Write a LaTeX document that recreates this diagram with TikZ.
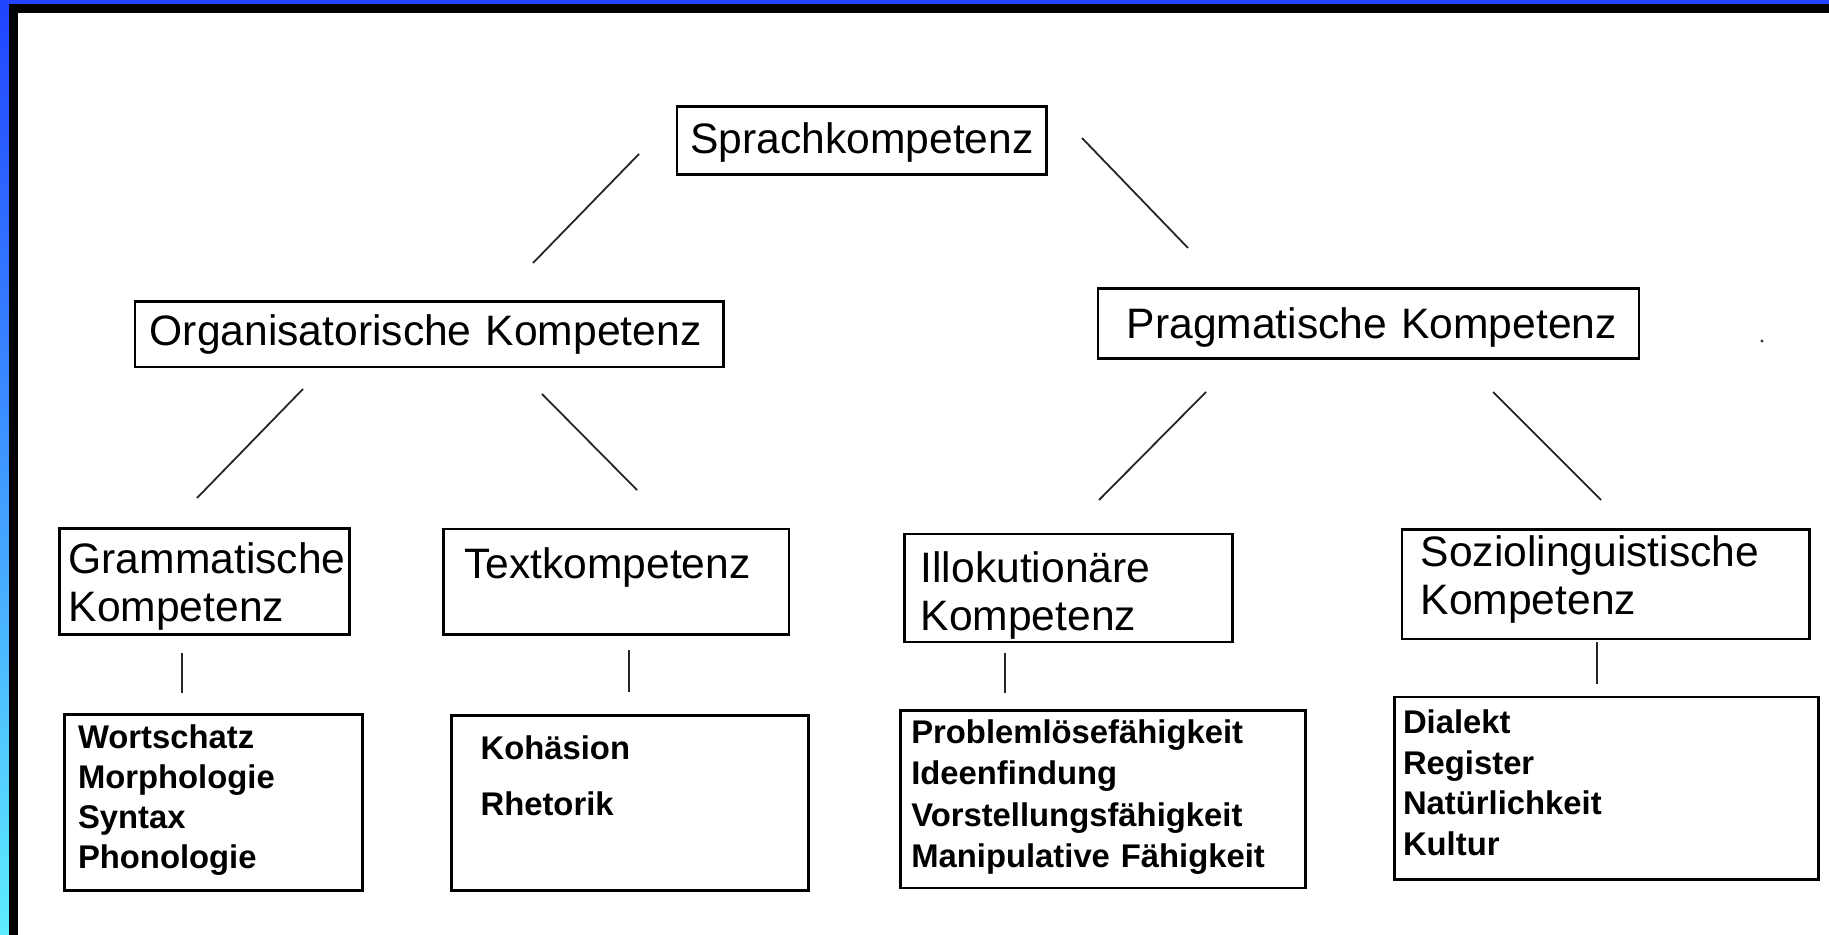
\documentclass[tikz,border=0pt]{standalone}
\usepackage{fontspec}
\setmainfont{Liberation Sans}
\hyphenpenalty=10000
\exhyphenpenalty=10000
\definecolor{frametop}{RGB}{32,68,255}
\definecolor{framebot}{RGB}{94,236,255}
\tikzset{
  kbox/.style={draw, line width=1.3pt, anchor=north west, inner ysep=0pt, align=left},
  upper/.style={kbox, font=\fontsize{21.3}{24.2}\selectfont},
  lower/.style={kbox, font=\fontsize{16.4}{20.3}\selectfont\bfseries},
  link/.style={draw=black!85, line width=0.9pt},
}
\begin{document}
\begin{tikzpicture}[x=0.5pt,y=-0.5pt]
	\useasboundingbox (0,0) rectangle (1829,935);
	% frame
	\fill[white] (0,0) rectangle (1829,935);
	\shade[top color=frametop, bottom color=framebot] (0,0) rectangle (9,935);
	\fill[frametop] (0,0) rectangle (1829,4.3);
	\fill[black] (9,4.3) rectangle (18,935);
	\fill[black] (9,4.3) rectangle (1829,13);

	% boxes
	\node[upper, inner xsep=6.75pt, text width=171.4pt, text height=23.85pt, text depth=10.3pt] (sprach) at (675.5,105) {Sprachkompetenz};
	\node[upper, inner xsep=7.35pt, text width=279.45pt, text height=22pt, text depth=10.85pt] (orga) at (133.7,300) {Organisatorische~Kompetenz};
	\node[upper, inner xsep=14.35pt, text width=241.75pt, text height=24.7pt, text depth=10.3pt] (pragma) at (1096.7,287.3) {Pragmatische~Kompetenz};

	\node[upper, inner xsep=4.65pt, text width=135.85pt, text height=22.2pt, text depth=30.8pt] (gramm) at (58,527.3) {Grammatische\\Kompetenz};
	\node[upper, inner xsep=10.2pt, text width=152.3pt, text height=24.5pt, text depth=28.3pt] (textk) at (442.3,527.7) {Textkompetenz};
	\node[upper, inner xsep=8pt, text width=147.85pt, text height=24.15pt, text depth=29.85pt] (illok) at (903.3,532.7) {Illokutionäre\\Kompetenz};
	\node[upper, inner xsep=9.3pt, text width=185.2pt, text height=18.35pt, text depth=36.35pt] (sozio) at (1400.7,528.3) {Soziolinguistische\\Kompetenz};

	\node[lower, inner xsep=6.7pt, text width=135.45pt, text height=16.7pt, text depth=71.15pt, font=\fontsize{16.4}{20}\selectfont\bfseries] (gramlist) at (63.3,713.3) {Wortschatz\\Morphologie\\Syntax\\Phonologie};
	\node[lower, inner xsep=14.65pt, text width=149.35pt, text height=22.15pt, text depth=65.35pt, font=\fontsize{16.4}{28}\selectfont\bfseries] (textlist) at (450,714) {Kohäsion\\Rhetorik};
	\node[lower, inner xsep=5.5pt, text width=191.65pt, text height=16.5pt, text depth=72.2pt, font=\fontsize{16.4}{20.6}\selectfont\bfseries] (illoklist) at (899,709.3) {Problemlösefähigkeit\\Ideenfindung\\Vorstellungsfähigkeit\\Manipulative~Fähigkeit};
	\node[lower, inner xsep=4.2pt, text width=203.6pt, text height=18.3pt, text depth=73pt] (soziolist) at (1393.3,695.7) {Dialekt\\Register\\Natürlichkeit\\Kultur};

	% connector ends
	\coordinate (s1) at (639,154);   \coordinate (o1) at (533,263);
	\coordinate (s2) at (1082,138);  \coordinate (p1) at (1188,248);
	\coordinate (o2) at (303,389);   \coordinate (g1) at (197,498);
	\coordinate (o3) at (542,394);   \coordinate (t1) at (637,490);
	\coordinate (p2) at (1206,392);  \coordinate (i1) at (1099,500);
	\coordinate (p3) at (1493,392);  \coordinate (z1) at (1601,500);
	\coordinate (g2) at (182,653);   \coordinate (g3) at (182,693);
	\coordinate (t2) at (629,650);   \coordinate (t3) at (629,692);
	\coordinate (i2) at (1005,653);  \coordinate (i3) at (1005,693);
	\coordinate (z2) at (1597,642);  \coordinate (z3) at (1597,684);

	\draw[link] (s1) -- (o1);
	\draw[link] (s2) -- (p1);
	\draw[link] (o2) -- (g1);
	\draw[link] (o3) -- (t1);
	\draw[link] (p2) -- (i1);
	\draw[link] (p3) -- (z1);
	\draw[link] (g2) -- (g3);
	\draw[link] (t2) -- (t3);
	\draw[link] (i2) -- (i3);
	\draw[link] (z2) -- (z3);

	\coordinate (speck) at (1762,341);
	\fill[black!80] (speck) circle (1.6);
\end{tikzpicture}
\end{document}
